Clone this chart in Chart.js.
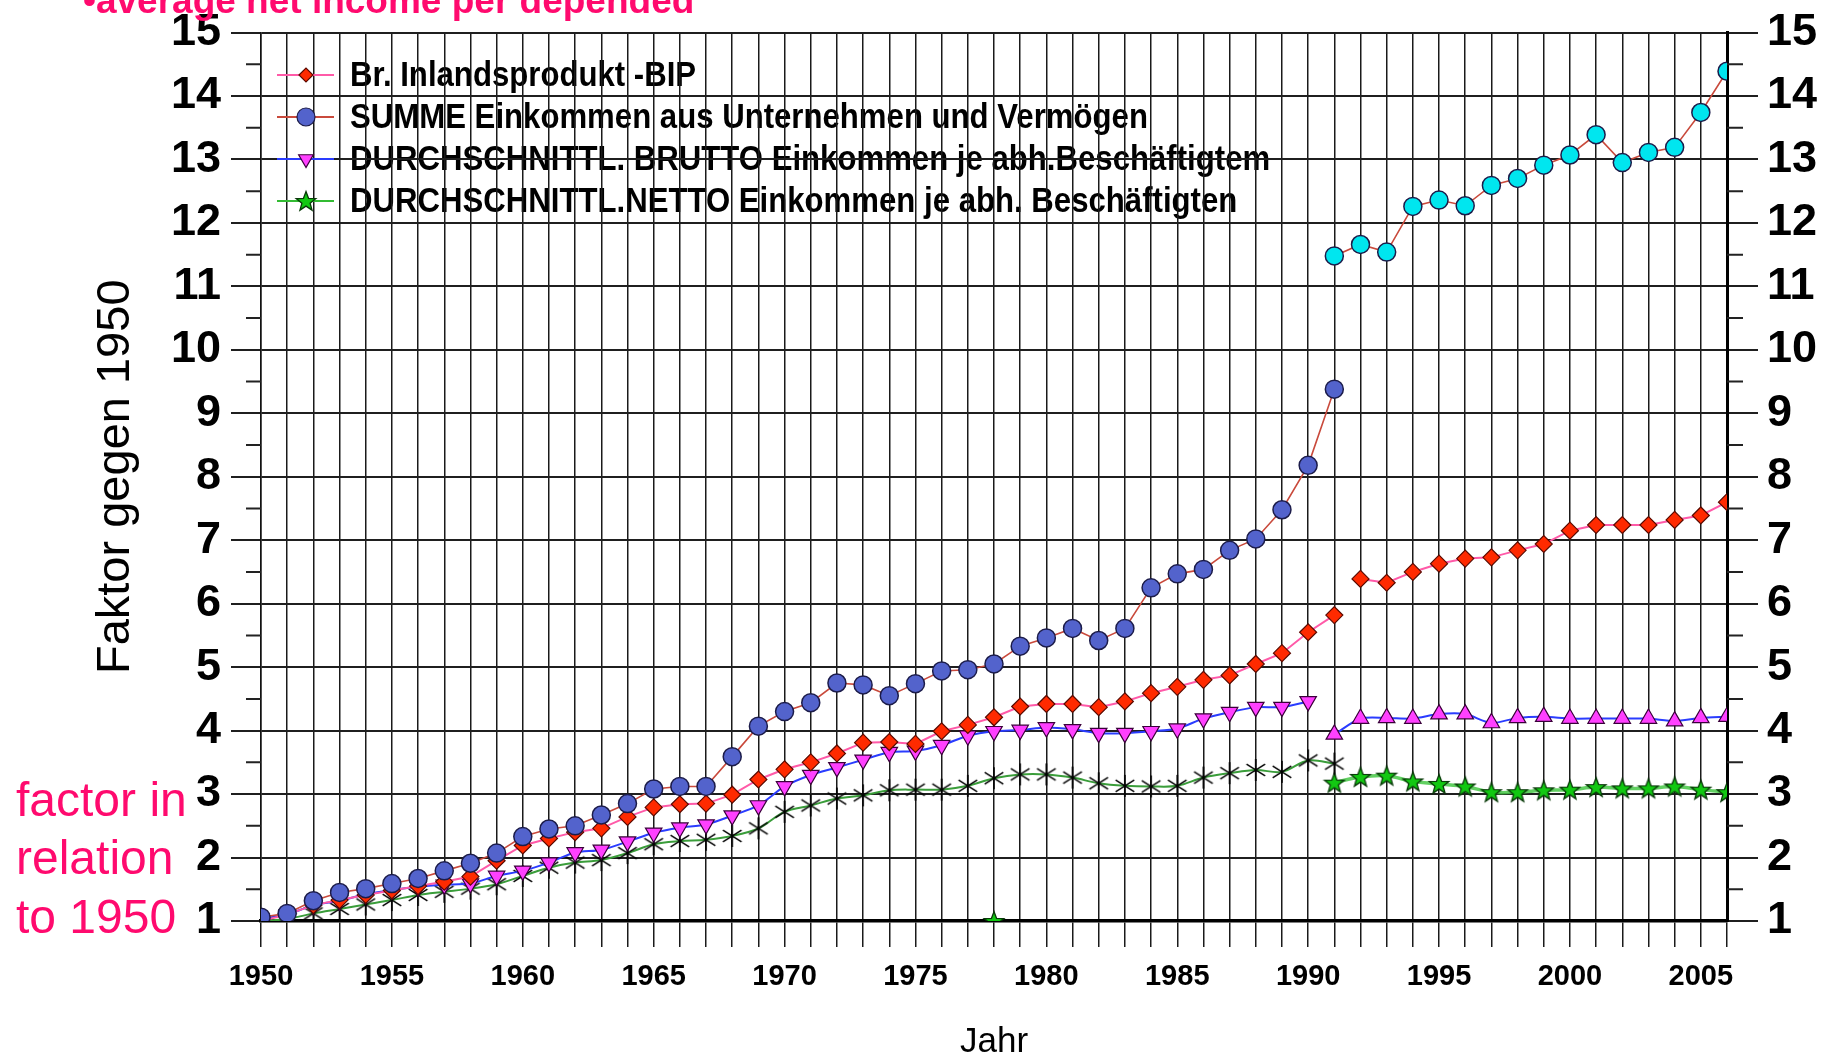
<!DOCTYPE html>
<html><head><meta charset="utf-8">
<script src="https://cdn.jsdelivr.net/npm/chart.js@4.4.1/dist/chart.umd.min.js"></script>
<style>html,body{margin:0;padding:0;background:#fff;}#wrap{position:relative;width:1841px;height:1056px;}canvas{display:block;}</style>
</head><body><div id="wrap"><canvas id="c" width="1841" height="1056"></canvas></div>
<script>
// ---- categories ----
const yearsWest = [1950,1951,1952,1953,1954,1955,1956,1957,1958,1959,1960,1961,1962,1963,1964,1965,1966,1967,1968,1969,1970,1971,1972,1973,1974,1975,1976,1977,1978,1979,1980,1981,1982,1983,1984,1985,1986,1987,1988,1989,1990,1991];
const yearsWestBrutto = [1950,1951,1952,1953,1954,1955,1956,1957,1958,1959,1960,1961,1962,1963,1964,1965,1966,1967,1968,1969,1970,1971,1972,1973,1974,1975,1976,1977,1978,1979,1980,1981,1982,1983,1984,1985,1986,1987,1988,1989,1990];
const yearsGesamt = [1991,1992,1993,1994,1995,1996,1997,1998,1999,2000,2001,2002,2003,2004,2005,2006];
const yearsGesamtBip = [1992,1993,1994,1995,1996,1997,1998,1999,2000,2001,2002,2003,2004,2005,2006];
const strayYears = [1978];

// ---- series values ----
const bipWest = [1.00,1.10,1.25,1.33,1.41,1.48,1.55,1.62,1.70,1.95,2.19,2.30,2.40,2.46,2.64,2.79,2.84,2.85,2.99,3.23,3.39,3.50,3.64,3.81,3.82,3.79,3.99,4.09,4.21,4.38,4.42,4.42,4.37,4.46,4.59,4.69,4.80,4.87,5.05,5.22,5.55,5.82];
const bipGesamt = [6.39,6.33,6.50,6.63,6.71,6.73,6.84,6.94,7.15,7.24,7.24,7.24,7.32,7.39,7.60];
const summeWest = [1.06,1.12,1.32,1.45,1.51,1.59,1.67,1.79,1.91,2.07,2.33,2.45,2.50,2.67,2.85,3.08,3.12,3.12,3.59,4.07,4.30,4.44,4.75,4.72,4.55,4.74,4.94,4.96,5.05,5.33,5.46,5.61,5.42,5.61,6.25,6.47,6.54,6.84,7.02,7.48,8.18,9.38];
const summeGesamt = [11.48,11.66,11.54,12.26,12.36,12.27,12.59,12.70,12.91,13.07,13.39,12.95,13.11,13.19,13.74,14.39];
const bruttoWest = [1.04,1.10,1.25,1.32,1.42,1.49,1.54,1.57,1.59,1.71,1.79,1.92,2.08,2.12,2.25,2.39,2.47,2.52,2.66,2.82,3.12,3.30,3.42,3.54,3.66,3.68,3.77,3.92,3.99,4.01,4.05,4.02,3.96,3.96,3.99,4.03,4.19,4.29,4.37,4.37,4.46];
const bruttoGesamt = [3.94,4.19,4.20,4.19,4.26,4.26,4.12,4.20,4.22,4.19,4.19,4.19,4.19,4.15,4.20,4.22];
const nettoWest = [1.00,1.03,1.12,1.19,1.26,1.33,1.41,1.46,1.51,1.58,1.71,1.84,1.92,1.96,2.07,2.21,2.26,2.28,2.34,2.46,2.72,2.82,2.93,2.98,3.06,3.07,3.07,3.13,3.25,3.31,3.31,3.26,3.17,3.13,3.12,3.13,3.26,3.33,3.38,3.35,3.53,3.48];
const nettoGesamt = [3.18,3.27,3.29,3.20,3.16,3.12,3.03,3.03,3.06,3.07,3.11,3.09,3.09,3.12,3.07,3.03];
const strayValues = [1.0];

// ---- tick labels / texts ----
const xTickLabels = ['1950','1955','1960','1965','1970','1975','1980','1985','1990','1995','2000','2005'];
const yTickLabels = ['1','2','3','4','5','6','7','8','9','10','11','12','13','14','15'];
const legendLabels = ['Br. Inlandsprodukt -BIP','SUMME Einkommen aus Unternehmen und Vermögen','DURCHSCHNITTL. BRUTTO Einkommen je abh.Beschäftigtem','DURCHSCHNITTL.NETTO Einkommen je abh. Beschäftigten'];
const topNote = '•average net income per depended';
const sideNote = ['factor in','relation','to 1950'];

const FONT = '"Liberation Sans", Arial, Helvetica, sans-serif';
const PINK = '#ff0a6e';

function pts(xs, ys){ return xs.map((x,i)=>({x:x, y:ys[i]})); }

// custom markers
function makeStar(){
  const c=document.createElement('canvas'); c.width=24; c.height=24;
  const g=c.getContext('2d'); g.beginPath();
  for(let i=0;i<10;i++){const r=i%2?4.3:10.3; const a=-Math.PI/2+i*Math.PI/5; const px=12+r*Math.cos(a), py=12.8+r*Math.sin(a); i?g.lineTo(px,py):g.moveTo(px,py);} g.closePath();
  g.fillStyle='#12c812'; g.fill(); g.lineWidth=1.3; g.strokeStyle='#083a08'; g.stroke(); return c;
}
function makeAsterisk(){
  const c=document.createElement('canvas'); c.width=26; c.height=26;
  const g=c.getContext('2d'); g.strokeStyle='#000'; g.lineWidth=1.5; g.beginPath();
  [90,32,148].forEach(d=>{const a=d*Math.PI/180, r=11; g.moveTo(13-r*Math.cos(a),13+r*Math.sin(a)); g.lineTo(13+r*Math.cos(a),13-r*Math.sin(a));});
  g.stroke(); return c;
}
const starImg = makeStar();
const asteriskImg = makeAsterisk();

const cSumme = {line:'#c94a3c', fillOld:'#5363cc', fillNew:'#00e6ef', border:'#1c1c4a'};
const cBip = {line:'#ff5aa8', fill:'#ff2a00', border:'#5a0a00'};
const cBrutto = {line:'#2a3cff', fill:'#ff40ff', border:'#3a003a'};
const cNetto = {line:'#3a9d3a', lineNew:'rgba(70,200,70,0.85)'};

const datasets = [
  {label:'summeWest', data:pts(yearsWest,summeWest), borderColor:cSumme.line, borderWidth:1.6, pointStyle:'circle', pointRadius:9, pointBackgroundColor:cSumme.fillOld, pointBorderColor:cSumme.border, pointBorderWidth:1.5, order:0},
  {label:'summeGesamt', data:pts(yearsGesamt,summeGesamt), borderColor:cSumme.line, borderWidth:1.6, pointStyle:'circle', pointRadius:9, pointBackgroundColor:cSumme.fillNew, pointBorderColor:cSumme.border, pointBorderWidth:1.5, order:0},
  {label:'bipWest', data:pts(yearsWest,bipWest), borderColor:cBip.line, borderWidth:2, pointStyle:'rectRot', pointRadius:8.5, pointBackgroundColor:cBip.fill, pointBorderColor:cBip.border, pointBorderWidth:1.2, order:1},
  {label:'bipGesamt', data:pts(yearsGesamtBip,bipGesamt), borderColor:cBip.line, borderWidth:2, pointStyle:'rectRot', pointRadius:8.5, pointBackgroundColor:cBip.fill, pointBorderColor:cBip.border, pointBorderWidth:1.2, order:1},
  {label:'bruttoWest', data:pts(yearsWestBrutto,bruttoWest), borderColor:cBrutto.line, borderWidth:2, tension:0.25, pointStyle:'triangle', pointRotation:180, pointRadius:9.5, pointBackgroundColor:cBrutto.fill, pointBorderColor:cBrutto.border, pointBorderWidth:1.2, order:2},
  {label:'bruttoGesamt', data:pts(yearsGesamt,bruttoGesamt), borderColor:cBrutto.line, borderWidth:2, tension:0.25, pointStyle:'triangle', pointRotation:0, pointRadius:9.5, pointBackgroundColor:cBrutto.fill, pointBorderColor:cBrutto.border, pointBorderWidth:1.2, order:2},
  {label:'nettoWest', data:pts(yearsWest,nettoWest), borderColor:cNetto.line, borderWidth:2, tension:0.35, pointStyle:asteriskImg, pointRadius:10, order:3},
  {label:'nettoGesamt', data:pts(yearsGesamt,nettoGesamt), borderColor:cNetto.lineNew, borderWidth:3.5, tension:0.35, pointStyle:starImg, pointRadius:10, order:3},
  {label:'stray', data:pts(strayYears,strayValues), showLine:false, pointStyle:starImg, pointRadius:10, order:3}
];

const legendItems = [
  {text:legendLabels[0], line:cBip.line, style:'rectRot', r:7, rot:0, fill:cBip.fill, stroke:cBip.border},
  {text:legendLabels[1], line:cSumme.line, style:'circle', r:9, rot:0, fill:cSumme.fillOld, stroke:cSumme.border},
  {text:legendLabels[2], line:cBrutto.line, style:'triangle', r:8.5, rot:180, fill:cBrutto.fill, stroke:cBrutto.border},
  {text:legendLabels[3], line:'#33bb33', style:starImg, r:9, rot:0, fill:'#12c812', stroke:'#083a08'}
];
const legendRows = [75,117,159,201];

const bgAndLegend = {
  id:'bgAndLegend',
  beforeDraw(chart){
    const ctx=chart.ctx; ctx.save();
    ctx.fillStyle='#fff'; ctx.fillRect(0,0,chart.width,chart.height);
    legendItems.forEach((it,i)=>{
      const y=legendRows[i];
      ctx.save();
      ctx.translate(350,y+1); ctx.scale(0.89,1);
      ctx.fillStyle='#000'; ctx.font='bold 35px '+FONT; ctx.textBaseline='middle'; ctx.textAlign='left';
      ctx.fillText(it.text,0,0);
      ctx.restore();
    });
    ctx.restore();
  },
  beforeDatasetsDraw(chart){
    const ctx=chart.ctx, ys=chart.scales.y, a=chart.chartArea;
    ctx.save(); ctx.strokeStyle='#222'; ctx.lineWidth=2;
    for(let v=1.5; v<15; v+=1){
      const py=ys.getPixelForValue(v);
      ctx.beginPath(); ctx.moveTo(a.left-15,py); ctx.lineTo(a.left,py); ctx.moveTo(a.right,py); ctx.lineTo(a.right+16,py); ctx.stroke();
    }
    // legend symbols (over grid)
    legendItems.forEach((it,i)=>{
      const y=legendRows[i];
      ctx.strokeStyle=it.line; ctx.lineWidth=2; ctx.beginPath(); ctx.moveTo(277,y); ctx.lineTo(334,y); ctx.stroke();
      ctx.fillStyle=it.fill; ctx.strokeStyle=it.stroke; ctx.lineWidth=1.2;
      if (typeof it.style==='string' && Chart.helpers && Chart.helpers.drawPoint){
        Chart.helpers.drawPoint(ctx,{pointStyle:it.style,radius:it.r,rotation:it.rot,borderWidth:1.2},306,y);
      } else if (typeof it.style!=='string'){
        ctx.drawImage(it.style,306-it.style.width/2,y-it.style.height/2);
      }
    });
    ctx.restore();
  },
  afterDraw(chart){
    const ctx=chart.ctx; ctx.save();
    ctx.fillStyle=PINK; ctx.textAlign='left'; ctx.textBaseline='alphabetic';
    ctx.font='bold 37px '+FONT; ctx.fillText(topNote,83,13);
    ctx.font='48px '+FONT;
    const bl=[816,874,933];
    sideNote.forEach((t,i)=>ctx.fillText(t,16,bl[i]));
    ctx.restore();
  }
};

Chart.defaults.font.family = FONT;
new Chart(document.getElementById('c'), {
  type:'line',
  data:{datasets},
  options:{
    responsive:false, animation:false, devicePixelRatio:1,
    layout:{padding:{top:26,left:0,right:0,bottom:0}},
    plugins:{legend:{display:false}, tooltip:{enabled:false}},
    scales:{
      x:{type:'linear', min:1950, max:2006, afterFit(s){s.height=135;},
        ticks:{stepSize:1, autoSkip:false, maxRotation:0, minRotation:0, padding:13, color:'#000',
          font:{size:29, weight:'bold', lineHeight:1.2},
          callback:(v)=> xTickLabels.includes(String(v)) ? String(v) : ''},
        grid:{color:'#1a1a1a', lineWidth:1.5, tickLength:26},
        border:{display:true, color:'#000', width:3.5},
        title:{display:true, text:'Jahr', color:'#000', font:{size:35, lineHeight:0.8}, padding:{top:0,bottom:0}}
      },
      y:{type:'linear', position:'left', min:1, max:15, afterFit(s){s.width=261;},
        ticks:{stepSize:0.5, padding:10, color:'#000', font:{size:45, weight:'bold', lineHeight:1.0},
          callback:(v)=> yTickLabels.includes(String(v)) ? String(v) : ''},
        grid:{color:'#1f1f1f', lineWidth:2, tickLength:30,
          tickColor:(ctx)=> (ctx.tick && Number.isInteger(ctx.tick.value)) ? '#1f1f1f' : 'rgba(0,0,0,0)'},
        border:{display:true, color:'#111', width:1.5},
        title:{display:true, text:'Faktor gegen 1950', color:'#000', font:{size:47, lineHeight:1.2}, padding:{top:88,bottom:0}}
      },
      y2:{type:'linear', position:'right', min:1, max:15, afterFit(s){s.width=114;},
        ticks:{stepSize:0.5, padding:9, color:'#000', font:{size:45, weight:'bold', lineHeight:1.0},
          callback:(v)=> yTickLabels.includes(String(v)) ? String(v) : ''},
        grid:{drawOnChartArea:false, color:'#1f1f1f', lineWidth:2, tickLength:31,
          tickColor:(ctx)=> (ctx.tick && Number.isInteger(ctx.tick.value)) ? '#1f1f1f' : 'rgba(0,0,0,0)'},
        border:{display:true, color:'#000', width:3}
      }
    }
  },
  plugins:[bgAndLegend]
});
</script>
</body></html>
